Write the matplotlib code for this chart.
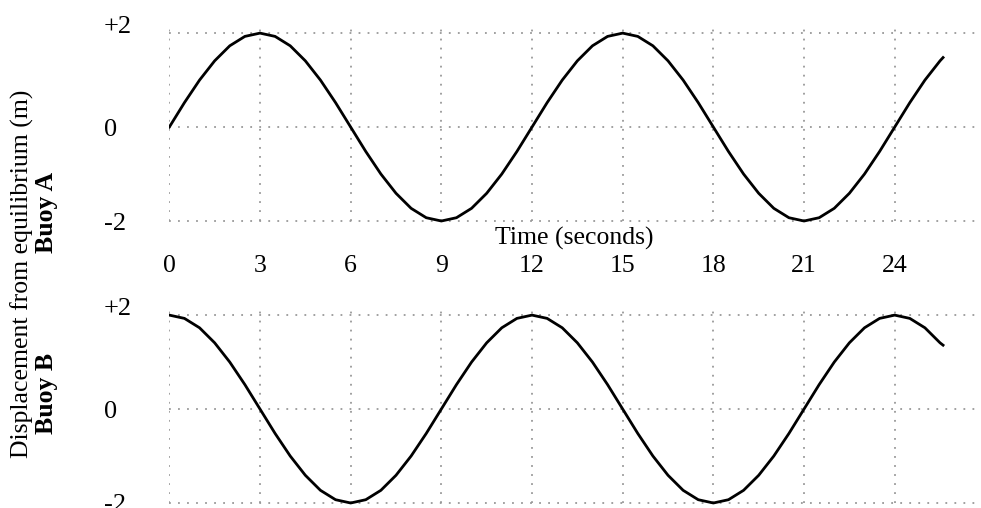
import matplotlib
matplotlib.use("Agg")
import matplotlib.pyplot as plt

plt.rcParams["font.family"] = ["Liberation Serif", "DejaVu Serif"]
plt.rcParams["font.size"] = 18.5

# sample times (seconds), every half second, curve stops at ~25.6 s
time_s = [i * 0.5 for i in range(52)] + [25.6]

# displacement (m)
buoy_a = [0.0, 0.52, 1.0, 1.41, 1.73, 1.93, 2.0, 1.93, 1.73, 1.41, 1.0, 0.52,
          0.0, -0.52, -1.0, -1.41, -1.73, -1.93, -2.0, -1.93, -1.73, -1.41, -1.0, -0.52,
          0.0, 0.52, 1.0, 1.41, 1.73, 1.93, 2.0, 1.93, 1.73, 1.41, 1.0, 0.52,
          0.0, -0.52, -1.0, -1.41, -1.73, -1.93, -2.0, -1.93, -1.73, -1.41, -1.0, -0.52,
          0.0, 0.52, 1.0, 1.41, 1.48]
buoy_b = [2.0, 1.93, 1.73, 1.41, 1.0, 0.52, 0.0, -0.52, -1.0, -1.41, -1.73, -1.93,
          -2.0, -1.93, -1.73, -1.41, -1.0, -0.52, 0.0, 0.52, 1.0, 1.41, 1.73, 1.93,
          2.0, 1.93, 1.73, 1.41, 1.0, 0.52, 0.0, -0.52, -1.0, -1.41, -1.73, -1.93,
          -2.0, -1.93, -1.73, -1.41, -1.0, -0.52, 0.0, 0.52, 1.0, 1.41, 1.73, 1.93,
          2.0, 1.93, 1.73, 1.41, 1.36]

x_ticks = [0, 3, 6, 9, 12, 15, 18, 21, 24]
y_ticks = [-2, 0, 2]
y_labels = ["-2", "0", "+2"]

fig = plt.figure(figsize=(9.81, 5.08), dpi=100)
ax_a = fig.add_axes([0.1726, 0.5557, 0.8257, 0.3976])
ax_b = fig.add_axes([0.1726, 0.0006, 0.8257, 0.3976])

dots = (0, (1, 4))
for ax, values in [(ax_a, buoy_a), (ax_b, buoy_b)]:
    ax.set_xlim(0, 26.8)
    ax.set_ylim(-2.1, 2.2)
    for s in ax.spines.values():
        s.set_visible(False)
    # dotted grid
    for y in y_ticks:
        ax.axhline(y, color="#999999", lw=1.3, ls=dots, zorder=1)
    ax.vlines(x_ticks, -2, 2.17, color="#999999", lw=1.3, ls=dots, zorder=1)
    ax.plot(time_s, values, color="black", lw=2.0, zorder=3)

    ax.set_yticks(y_ticks, labels=y_labels, fontsize=19)
    ax.tick_params(axis="y", length=0, pad=47)
    for lbl in ax.get_yticklabels():
        lbl.set_horizontalalignment("left")
        if lbl.get_text() == "+2":
            lbl.set_verticalalignment("baseline")

ax_a.set_xticks(x_ticks)
ax_a.tick_params(axis="x", length=0, pad=21)
ax_b.set_xticks([])

ax_a.annotate("Time (seconds)", xy=(0.5, 0), xycoords="axes fraction",
              xytext=(0, -9), textcoords="offset points", ha="center", va="center")

fig.text(0.0224, 0.4606, "Displacement from equilibrium (m)", rotation=90,
         ha="center", va="center")
fig.text(0.0469, 0.5827, "Buoy A", rotation=90, ha="center", va="center",
         fontweight="bold")
fig.text(0.0469, 0.2264, "Buoy B", rotation=90, ha="center", va="center",
         fontweight="bold")

fig.savefig("out.png", dpi=100)
